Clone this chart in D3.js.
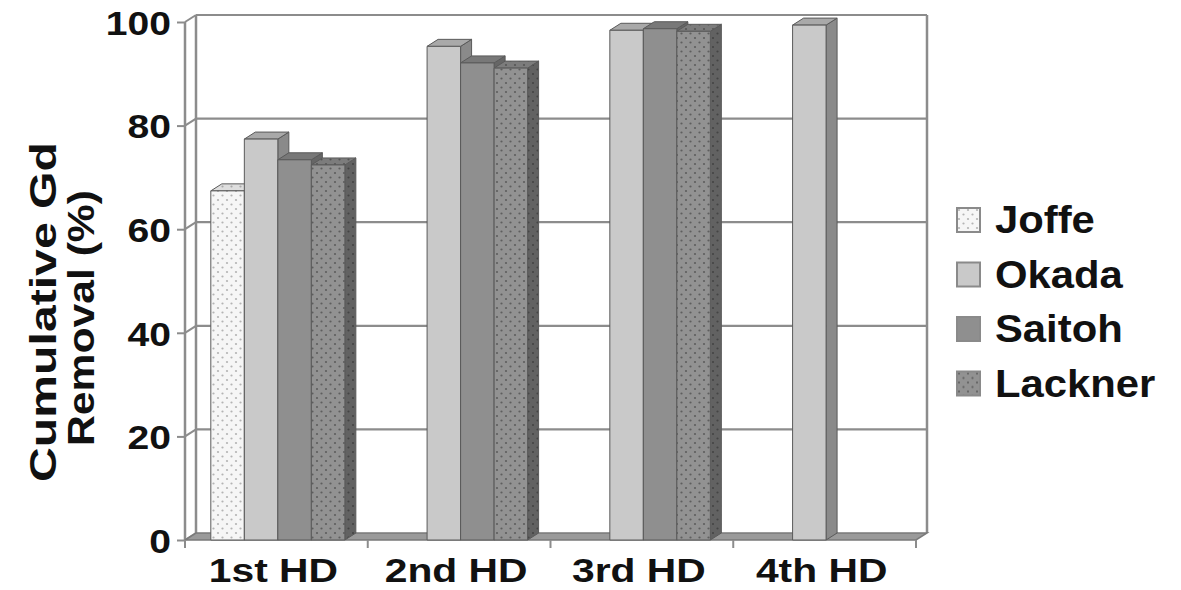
<!DOCTYPE html>
<html>
<head>
<meta charset="utf-8">
<script src="https://cdn.jsdelivr.net/npm/d3@7"></script>
<style>
  html, body { margin: 0; padding: 0; background: #fff; }
  svg { display: block; }
  text { font-family: "Liberation Sans", Arial, Helvetica, sans-serif; font-weight: bold; fill: #111; }
</style>
</head>
<body>
<svg id="chart" width="1181" height="590"></svg>
<script>
// Cumulative gadolinium removal after successive haemodialysis sessions
const categories = ["1st HD", "2nd HD", "3rd HD", "4th HD"];
const seriesNames = ["Joffe", "Okada", "Saitoh", "Lackner"];
const joffe   = [67.4, null, null, null];
const okada   = [77.4, 95.3, 98.4, 99.4];
const saitoh  = [73.4, 92.1, 98.7, null];
const lackner = [72.4, 91.1, 98.2, null];
const yTicks  = [0, 20, 40, 60, 80, 100];

const seriesValues = { Joffe: joffe, Okada: okada, Saitoh: saitoh, Lackner: lackner };

const svg = d3.select("#chart");
const defs = svg.append("defs");

// dotted fills
function dotPattern(id, bg, dot) {
  const p = defs.append("pattern").attr("id", id)
    .attr("patternUnits", "userSpaceOnUse").attr("width", 9).attr("height", 9);
  p.append("rect").attr("width", 9).attr("height", 9).attr("fill", bg);
  p.append("circle").attr("cx", 2).attr("cy", 2).attr("r", 1.1).attr("fill", dot);
  p.append("circle").attr("cx", 6.5).attr("cy", 6.5).attr("r", 1.1).attr("fill", dot);
}
dotPattern("dotsLight", "#f6f6f6", "#b4b4b4");
dotPattern("dotsLightTop", "#dedede", "#a8a8a8");
dotPattern("dotsDark", "#929292", "#5e5e5e");
dotPattern("dotsDarkTop", "#7c7c7c", "#555");
dotPattern("dotsDarkSide", "#626262", "#444");

const styles = {
  Joffe:   { front: "url(#dotsLight)", top: "url(#dotsLightTop)", side: "#b8b8b8", swatch: "url(#dotsLight)" },
  Okada:   { front: "#c9c9c9", top: "#a9a9a9", side: "#8a8a8a", swatch: "#c9c9c9" },
  Saitoh:  { front: "#8f8f8f", top: "#787878", side: "#666", swatch: "#8f8f8f" },
  Lackner: { front: "url(#dotsDark)", top: "url(#dotsDarkTop)", side: "url(#dotsDarkSide)", swatch: "url(#dotsDark)" }
};

// plot frame (front plane) and 3D depth offset
const plotLeft = 185, plotRight = 916, plotBottom = 540, plotTop = 22;
const dx = 11, dy = -7;

const y = d3.scaleLinear().domain([0, 100]).range([plotBottom, plotTop]);
const x0 = d3.scaleBand().domain(categories).range([plotLeft, plotRight]).paddingInner(0).paddingOuter(0);
const x1 = d3.scaleBand().domain(seriesNames).range([0, x0.bandwidth()])
  .paddingInner(0).paddingOuter(0.727).align(0.53);

const wallColor = "#8c8c8c";
const fontStack = "'Liberation Sans', Arial, sans-serif";

// back wall
const g = svg.append("g");
g.append("rect").attr("x", plotLeft + dx).attr("y", plotTop + dy)
  .attr("width", plotRight - plotLeft).attr("height", plotBottom - plotTop)
  .attr("fill", "#fff");

// gridlines on back wall and left wall
yTicks.forEach(v => {
  const yy = y(v);
  if (v > 0) {
    g.append("line").attr("x1", plotLeft + dx).attr("x2", plotRight + dx)
      .attr("y1", yy + dy).attr("y2", yy + dy)
      .attr("stroke", wallColor).attr("stroke-width", 2.2);
  }
  g.append("line").attr("x1", plotLeft).attr("x2", plotLeft + dx)
    .attr("y1", yy).attr("y2", yy + dy)
    .attr("stroke", wallColor).attr("stroke-width", 2);
});

// wall edges
g.append("line").attr("x1", plotRight + dx).attr("x2", plotRight + dx)
  .attr("y1", plotTop + dy).attr("y2", plotBottom + dy)
  .attr("stroke", wallColor).attr("stroke-width", 2.5);
g.append("line").attr("x1", plotLeft + dx).attr("x2", plotLeft + dx)
  .attr("y1", plotTop + dy).attr("y2", plotBottom + dy)
  .attr("stroke", wallColor).attr("stroke-width", 2.5);
g.append("line").attr("x1", plotLeft).attr("x2", plotLeft)
  .attr("y1", plotTop).attr("y2", plotBottom)
  .attr("stroke", wallColor).attr("stroke-width", 2.5);

// floor
g.append("polygon")
  .attr("points", [[plotLeft, plotBottom], [plotRight, plotBottom], [plotRight + dx, plotBottom + dy], [plotLeft + dx, plotBottom + dy]].map(p => p.join(",")).join(" "))
  .attr("fill", "#9a9a9a").attr("stroke", "#7a7a7a").attr("stroke-width", 1.5);

// y axis ticks and labels
const yAxis = d3.axisLeft(y).tickValues(yTicks).tickSize(8).tickPadding(0).tickFormat(d3.format("d"));
const ya = svg.append("g").attr("transform", `translate(${plotLeft},0)`).call(yAxis);
ya.select(".domain").remove();
ya.selectAll(".tick line").attr("stroke", wallColor).attr("stroke-width", 2);
ya.selectAll(".tick text")
  .attr("x", 0).attr("dy", "0.36em")
  .attr("transform", "translate(-14,0) scale(1.15,1)")
  .style("font-size", "34px").style("font-family", fontStack)
  .style("font-weight", "bold").attr("fill", "#111");

// category ticks at band boundaries
const edges = categories.map(c => x0(c)).concat([x0(categories[categories.length - 1]) + x0.bandwidth()]);
edges.forEach(ex => {
  svg.append("line").attr("x1", ex).attr("x2", ex).attr("y1", plotBottom).attr("y2", plotBottom + 8)
    .attr("stroke", wallColor).attr("stroke-width", 2);
});

// bars
const bars = svg.append("g");
categories.forEach((c, ci) => {
  seriesNames.forEach(s => {
    const v = seriesValues[s][ci];
    if (v == null) return;
    const bx = x0(c) + x1(s), bw = x1.bandwidth();
    const yTop = y(v), yBase = y(0);
    const st = styles[s];
    const gb = bars.append("g").attr("stroke", "#5a5a5a").attr("stroke-width", 1).attr("stroke-linejoin", "round");
    gb.append("polygon")
      .attr("points", [[bx + bw, yTop], [bx + bw + dx, yTop + dy], [bx + bw + dx, yBase + dy], [bx + bw, yBase]].map(p => p.join(",")).join(" "))
      .attr("fill", st.side);
    gb.append("polygon")
      .attr("points", [[bx, yTop], [bx + bw, yTop], [bx + bw + dx, yTop + dy], [bx + dx, yTop + dy]].map(p => p.join(",")).join(" "))
      .attr("fill", st.top);
    gb.append("rect").attr("x", bx).attr("y", yTop).attr("width", bw).attr("height", yBase - yTop)
      .attr("fill", st.front);
  });
});

// category labels
const xa = svg.append("g").attr("transform", `translate(0,${plotBottom})`)
  .call(d3.axisBottom(x0).tickSize(0).tickPadding(0));
xa.select(".domain").remove();
xa.selectAll(".tick text")
  .attr("y", 0).attr("dy", 0)
  .attr("transform", "translate(-3,42) scale(1.2,1)")
  .style("font-size", "34px").style("font-family", fontStack)
  .style("font-weight", "bold").attr("fill", "#111");

// y axis title (two lines, rotated)
const titleLines = [
  { text: "Cumulative Gd", center: 312, baseline: 56, length: 340 },
  { text: "Removal (%)",   center: 318, baseline: 94, length: 256 }
];
titleLines.forEach(t => {
  svg.append("text")
    .attr("transform", `translate(${t.baseline},${t.center}) rotate(-90)`)
    .attr("text-anchor", "middle")
    .attr("font-size", 37)
    .attr("textLength", t.length).attr("lengthAdjust", "spacingAndGlyphs")
    .text(t.text);
});

// legend
const legend = svg.append("g").attr("transform", "translate(957,208)");
seriesNames.forEach((s, i) => {
  const row = legend.append("g").attr("transform", `translate(0,${i * 54.5})`);
  row.append("rect").attr("x", 0).attr("y", 0).attr("width", 23).attr("height", 24)
    .attr("fill", styles[s].swatch).attr("stroke", "#8a8a8a").attr("stroke-width", 2);
  row.append("text").attr("transform", "translate(38,25) scale(1.1,1)")
    .attr("font-size", 38).text(s);
});
</script>
</body>
</html>
